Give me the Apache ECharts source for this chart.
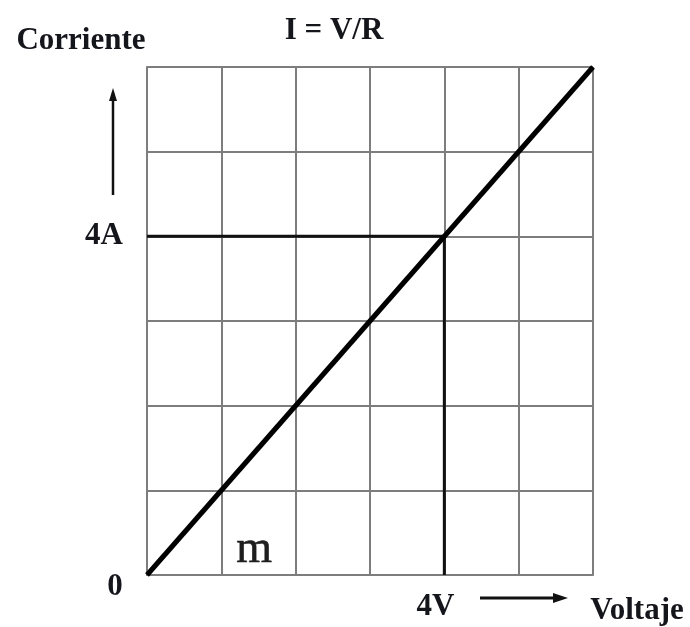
<!DOCTYPE html>
<html>
<head>
<meta charset="utf-8">
<script src="https://cdn.jsdelivr.net/npm/echarts@6/dist/echarts.min.js"></script>
<style>
  html, body { margin: 0; padding: 0; background: #fff; }
  #chart { width: 690px; height: 627px; }
</style>
</head>
<body>
<div id="chart"></div>
<script>
// Ohm's law: current grows linearly with voltage (I = V/R)
const voltage = [0, 6];
const current = [0, 6];
// reference point read on both axes
const refV = 4;
const refI = 4;
const xTickLabels = { 4: '4V' };
const yTickLabels = { 4: '4A' };
const originLabel = '0';
const slopeLabel = 'm';

const serif = '"Liberation Serif", "DejaVu Serif", serif';
const gridColor = '#7d7d7d';
const inkColor = '#15151c';

const chart = echarts.init(document.getElementById('chart'));

const lawLine = voltage.map((v, i) => [v, current[i]]);

chart.setOption({
  animation: false,
  backgroundColor: '#fff',
  grid: { left: 147, right: 97, top: 67, bottom: 52 },
  xAxis: {
    type: 'value', min: 0, max: 6, interval: 1,
    axisLine: { lineStyle: { color: gridColor, width: 2 } },
    axisTick: { show: false },
    splitLine: { show: true, lineStyle: { color: gridColor, width: 2 } },
    axisLabel: {
      margin: 16,
      padding: [0, 18, 0, 0],
      color: inkColor,
      fontFamily: serif, fontWeight: 'bold', fontSize: 31,
      formatter: v => xTickLabels[v] || ''
    }
  },
  yAxis: {
    type: 'value', min: 0, max: 6, interval: 1,
    axisLine: { show: true, lineStyle: { color: gridColor, width: 2 } },
    axisTick: { show: false },
    splitLine: { show: true, lineStyle: { color: gridColor, width: 2 } },
    axisLabel: {
      margin: 24,
      padding: [4, 0, 0, 0],
      color: inkColor,
      fontFamily: serif, fontWeight: 'bold', fontSize: 31,
      formatter: v => yTickLabels[v] || ''
    }
  },
  series: [
    {
      type: 'line', data: lawLine, symbol: 'none',
      lineStyle: { color: '#000', width: 5 }, z: 5
    },
    {
      type: 'line', data: [[0, refI], [refV, refI]], symbol: 'none',
      lineStyle: { color: '#111', width: 3 }, z: 4
    },
    {
      type: 'line', data: [[refV, refI], [refV, 0]], symbol: 'none',
      lineStyle: { color: '#111', width: 3 }, z: 4
    }
  ]
});

// Text and arrows placed around the plot
const origin = chart.convertToPixel({ gridIndex: 0 }, [0, 0]);
const mPos = chart.convertToPixel({ gridIndex: 0 }, [1.44, 0.3]);
const boldText = (text, x, y, size) => ({
  type: 'text', x, y,
  style: {
    text, fill: inkColor, font: `bold ${size}px ${serif}`,
    textAlign: 'center', textVerticalAlign: 'middle'
  }
});

chart.setOption({
  graphic: [
    boldText('Corriente', 81, 41, 31),
    boldText('I = V/R', 334, 31, 31),
    boldText('Voltaje', 637, 611, 31),
    boldText(originLabel, origin[0] - 32, origin[1] + 12, 31),
    {
      type: 'text', x: mPos[0], y: mPos[1],
      style: {
        text: slopeLabel, fill: '#1e1e1e', font: `46px ${serif}`,
        textAlign: 'center', textVerticalAlign: 'middle',
        stroke: '#1e1e1e', lineWidth: 0.6
      }
    },
    // upward arrow beside the current axis
    { type: 'line', shape: { x1: 113, y1: 195, x2: 113, y2: 98 },
      style: { stroke: '#111', lineWidth: 2.5 } },
    { type: 'polygon', shape: { points: [[113, 88], [109, 101], [117, 101]] },
      style: { fill: '#111' } },
    // rightward arrow beside the voltage axis
    { type: 'line', shape: { x1: 480, y1: 598, x2: 556, y2: 598 },
      style: { stroke: '#111', lineWidth: 3 } },
    { type: 'polygon', shape: { points: [[568, 598], [553, 593], [553, 603]] },
      style: { fill: '#111' } }
  ]
});
</script>
</body>
</html>
